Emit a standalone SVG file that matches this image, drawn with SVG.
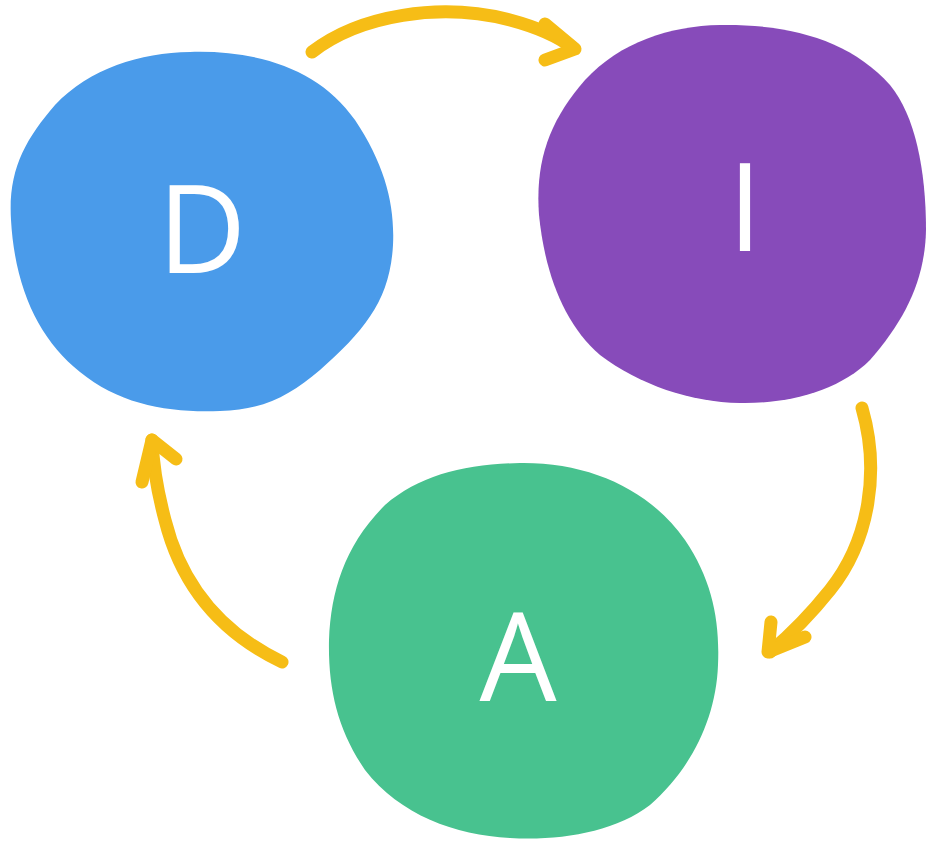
<svg xmlns="http://www.w3.org/2000/svg" width="926" height="843" viewBox="0 0 926 843">
<style>
.lbl{font-family:"Open Sans","Liberation Sans",sans-serif;font-size:122px;fill:#fff;text-anchor:middle}
.arr{fill:none;stroke:#F6BD16;stroke-width:13;stroke-linecap:round;stroke-linejoin:round}
</style>
<rect width="926" height="843" fill="#fff"/>
<g id="node-D">
<path fill="#4A9BEA" d="M190,52 C260,50 320,70 355,120 C385,165 395,205 393,245 C390,300 365,330 320,370 C290,395 265,410 220,411 C170,413 120,405 80,372 C40,340 15,290 11,220 C8,170 25,140 55,105 C90,68 140,53 190,52 Z"/>
<text class="lbl" x="202" y="273">D</text>
</g>
<g id="node-I">
<path fill="#874BBA" d="M720,25 C790,24 850,40 890,85 C915,115 926,170 926,230 C925,280 905,320 870,360 C840,390 790,404 740,403 C690,402 640,385 600,355 C565,325 545,275 539,215 C535,160 550,120 585,80 C620,42 670,26 720,25 Z"/>
<text class="lbl" x="745" y="251">I</text>
</g>
<g id="node-A">
<path fill="#48C28F" d="M520,463 C590,462 650,490 685,540 C712,580 720,620 718,665 C716,720 690,770 650,805 C615,832 560,841 510,838 C455,835 400,815 365,770 C338,730 328,690 329,640 C331,590 345,545 385,505 C420,475 465,464 520,463 Z"/>
<text class="lbl" x="518" y="701">A</text>
</g>
<g id="connectors">
<path class="arr" d="M312,52 C360,15 440,2 510,20 C540,28 560,38 573,48"/>
<path class="arr" d="M545,24 L575,49 L545,60"/>
<path class="arr" d="M862,408 C880,470 870,540 830,590 C810,615 790,635 770,652"/>
<path class="arr" d="M771,622 L768,652 L805,637"/>
<path class="arr" d="M282,662 C215,630 180,580 165,520 C157,490 153,465 152,440"/>
<path class="arr" d="M142,482 L152,440 L176,459"/>
</g>
</svg>
